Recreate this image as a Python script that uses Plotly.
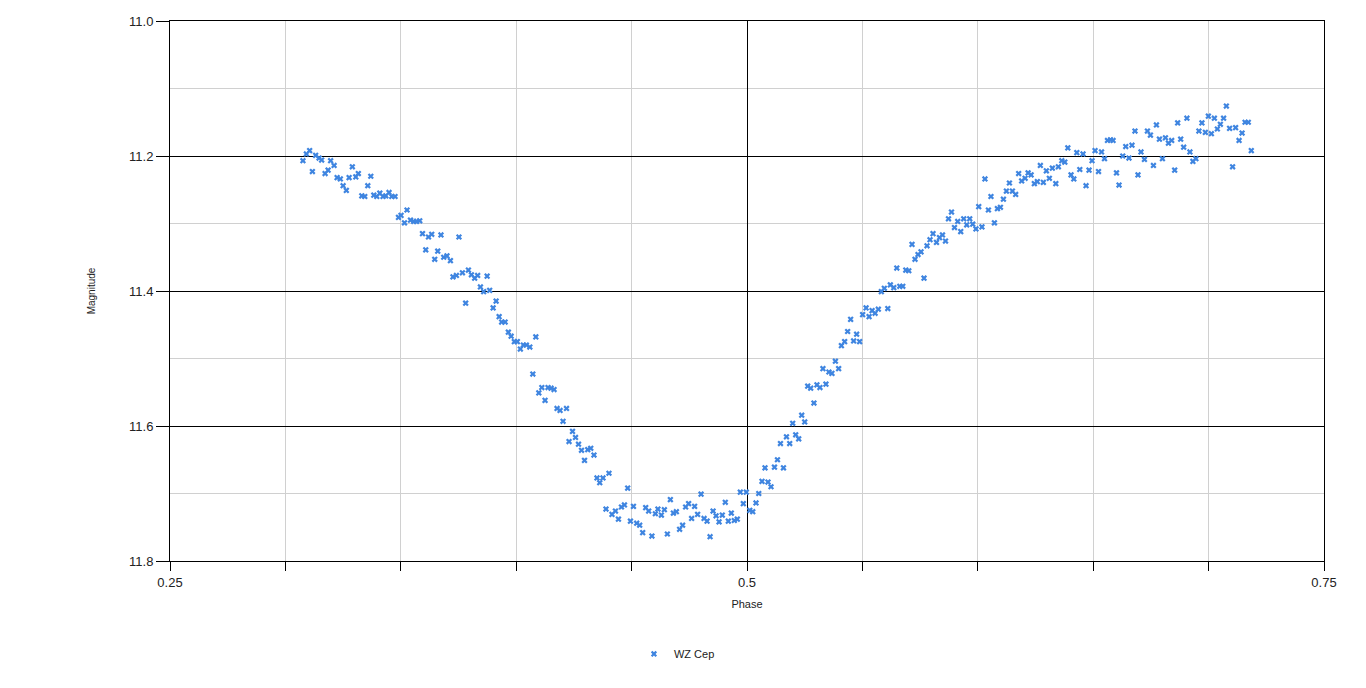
import plotly.graph_objects as go

series_name = "WZ Cep"

phase = [
    0.3076, 0.3091, 0.3105, 0.3117, 0.3131, 0.3146, 0.3157, 0.3172, 0.3185, 0.3196,
    0.3211, 0.3224, 0.3238, 0.3250, 0.3264, 0.3276, 0.3290, 0.3305, 0.3316, 0.3331,
    0.3344, 0.3357, 0.3370, 0.3383, 0.3396, 0.3409, 0.3423, 0.3435, 0.3449, 0.3461,
    0.3475, 0.3490, 0.3501, 0.3516, 0.3527, 0.3542, 0.3556, 0.3568, 0.3582, 0.3594,
    0.3608, 0.3620, 0.3634, 0.3647, 0.3660, 0.3674, 0.3686, 0.3700, 0.3715, 0.3726,
    0.3741, 0.3752, 0.3767, 0.3781, 0.3793, 0.3806, 0.3820, 0.3833, 0.3845, 0.3859,
    0.3874, 0.3885, 0.3900, 0.3913, 0.3926, 0.3937, 0.3952, 0.3966, 0.3978, 0.3992,
    0.4005, 0.4018, 0.4031, 0.4044, 0.4059, 0.4072, 0.4085, 0.4098, 0.4111, 0.4125,
    0.4138, 0.4151, 0.4164, 0.4177, 0.4190, 0.4203, 0.4218, 0.4229, 0.4244, 0.4257,
    0.4270, 0.4283, 0.4296, 0.4310, 0.4323, 0.4337, 0.4350, 0.4362, 0.4376, 0.4389,
    0.4402, 0.4415, 0.4430, 0.4443, 0.4456, 0.4469, 0.4483, 0.4495, 0.4508, 0.4522,
    0.4535, 0.4548, 0.4561, 0.4574, 0.4588, 0.4603, 0.4614, 0.4629, 0.4642, 0.4655,
    0.4668, 0.4681, 0.4694, 0.4708, 0.4721, 0.4734, 0.4747, 0.4760, 0.4773, 0.4786,
    0.4801, 0.4814, 0.4827, 0.4840, 0.4853, 0.4866, 0.4879, 0.4893, 0.4906, 0.4919,
    0.4932, 0.4945, 0.4958, 0.4971, 0.4984, 0.4997, 0.5012, 0.5025, 0.5039, 0.5051,
    0.5065, 0.5078, 0.5091, 0.5104, 0.5119, 0.5132, 0.5145, 0.5158, 0.5171, 0.5185,
    0.5198, 0.5211, 0.5224, 0.5237, 0.5250, 0.5263, 0.5276, 0.5290, 0.5303, 0.5316,
    0.5329, 0.5342, 0.5355, 0.5368, 0.5383, 0.5397, 0.5409, 0.5423, 0.5436, 0.5449,
    0.5462, 0.5475, 0.5488, 0.5501, 0.5516, 0.5529, 0.5542, 0.5555, 0.5569, 0.5582,
    0.5595, 0.5610, 0.5621, 0.5636, 0.5649, 0.5662, 0.5675, 0.5688, 0.5701, 0.5715,
    0.5728, 0.5741, 0.5754, 0.5767, 0.5780, 0.5793, 0.5806, 0.5821, 0.5834, 0.5847,
    0.5860, 0.5873, 0.5886, 0.5899, 0.5913, 0.5926, 0.5939, 0.5952, 0.5965, 0.5978,
    0.5992, 0.6004, 0.6018, 0.6031, 0.6046, 0.6057, 0.6072, 0.6085, 0.6098, 0.6111,
    0.6124, 0.6137, 0.6150, 0.6164, 0.6177, 0.6190, 0.6205, 0.6218, 0.6231, 0.6245,
    0.6258, 0.6271, 0.6284, 0.6297, 0.6310, 0.6323, 0.6338, 0.6349, 0.6364, 0.6377,
    0.6390, 0.6404, 0.6416, 0.6429, 0.6442, 0.6456, 0.6469, 0.6482, 0.6495, 0.6508,
    0.6523, 0.6536, 0.6549, 0.6562, 0.6575, 0.6586, 0.6601, 0.6612, 0.6628, 0.6641,
    0.6655, 0.6668, 0.6681, 0.6694, 0.6707, 0.6722, 0.6735, 0.6748, 0.6761, 0.6774,
    0.6787, 0.6800, 0.6813, 0.6826, 0.6840, 0.6853, 0.6866, 0.6879, 0.6892, 0.6906,
    0.6919, 0.6932, 0.6945, 0.6958, 0.6971, 0.6986, 0.6999, 0.7012, 0.7025, 0.7038,
    0.7051, 0.7065, 0.7077, 0.7091, 0.7104, 0.7117, 0.7132, 0.7145, 0.7158, 0.7172,
    0.7185,
]

magnitude = [
    11.207, 11.197, 11.192, 11.223, 11.199, 11.203, 11.206, 11.226, 11.221, 11.207,
    11.214, 11.232, 11.234, 11.244, 11.251, 11.232, 11.216, 11.231, 11.226, 11.259,
    11.260, 11.244, 11.230, 11.258, 11.260, 11.255, 11.260, 11.259, 11.254, 11.260,
    11.260, 11.291, 11.288, 11.299, 11.280, 11.295, 11.297, 11.297, 11.296, 11.315,
    11.339, 11.320, 11.316, 11.353, 11.341, 11.317, 11.350, 11.348, 11.355, 11.379,
    11.377, 11.320, 11.373, 11.418, 11.369, 11.376, 11.381, 11.377, 11.394, 11.401,
    11.378, 11.399, 11.425, 11.415, 11.438, 11.446, 11.446, 11.461, 11.467, 11.475,
    11.475, 11.486, 11.480, 11.480, 11.483, 11.523, 11.468, 11.551, 11.543, 11.562,
    11.543, 11.544, 11.546, 11.574, 11.577, 11.593, 11.574, 11.623, 11.608, 11.617,
    11.627, 11.636, 11.651, 11.635, 11.633, 11.643, 11.677, 11.684, 11.677, 11.723,
    11.670, 11.731, 11.726, 11.738, 11.720, 11.717, 11.692, 11.741, 11.719, 11.744,
    11.747, 11.758, 11.721, 11.726, 11.763, 11.730, 11.723, 11.732, 11.724, 11.760,
    11.709, 11.729, 11.727, 11.753, 11.747, 11.720, 11.715, 11.737, 11.719, 11.731,
    11.701, 11.737, 11.741, 11.764, 11.726, 11.733, 11.742, 11.732, 11.713, 11.741,
    11.729, 11.740, 11.738, 11.698, 11.715, 11.698, 11.725, 11.727, 11.714, 11.700,
    11.682, 11.662, 11.683, 11.690, 11.661, 11.650, 11.626, 11.662, 11.616, 11.626,
    11.596, 11.613, 11.619, 11.584, 11.594, 11.541, 11.544, 11.566, 11.539, 11.543,
    11.515, 11.538, 11.520, 11.522, 11.504, 11.515, 11.481, 11.475, 11.460, 11.442,
    11.474, 11.464, 11.475, 11.435, 11.425, 11.438, 11.429, 11.433, 11.427, 11.401,
    11.396, 11.426, 11.391, 11.395, 11.366, 11.393, 11.393, 11.369, 11.370, 11.331,
    11.353, 11.346, 11.342, 11.381, 11.333, 11.324, 11.315, 11.328, 11.321, 11.317,
    11.326, 11.293, 11.283, 11.306, 11.297, 11.312, 11.293, 11.302, 11.293, 11.301,
    11.308, 11.275, 11.305, 11.234, 11.280, 11.260, 11.299, 11.278, 11.276, 11.264,
    11.252, 11.240, 11.252, 11.257, 11.226, 11.237, 11.233, 11.225, 11.228, 11.241,
    11.238, 11.214, 11.239, 11.222, 11.233, 11.218, 11.241, 11.216, 11.207, 11.209,
    11.188, 11.228, 11.234, 11.195, 11.220, 11.197, 11.244, 11.221, 11.207, 11.192,
    11.223, 11.194, 11.204, 11.177, 11.176, 11.177, 11.225, 11.243, 11.200, 11.186,
    11.203, 11.184, 11.163, 11.228, 11.194, 11.205, 11.163, 11.169, 11.214, 11.154,
    11.175, 11.204, 11.173, 11.181, 11.177, 11.221, 11.151, 11.175, 11.187, 11.144,
    11.194, 11.208, 11.204, 11.163, 11.151, 11.165, 11.141, 11.167, 11.144, 11.160,
    11.153, 11.144, 11.126, 11.159, 11.216, 11.158, 11.177, 11.166, 11.150, 11.150,
    11.192,
]

x_tick_vals = [0.25, 0.5, 0.75]
x_tick_text = ["0.25", "0.5", "0.75"]
y_tick_vals = [11.0, 11.2, 11.4, 11.6, 11.8]
y_tick_text = ["11.0", "11.2", "11.4", "11.6", "11.8"]

marker_color = "#3f85e0"
font_family = "Liberation Sans, Arial, sans-serif"

fig = go.Figure()
fig.add_trace(go.Scatter(
    x=phase, y=magnitude, mode="markers", name=series_name,
    marker=dict(symbol="x", size=5.5, color=marker_color, line=dict(width=0)),
))

fig.update_layout(
    width=1366, height=688,
    paper_bgcolor="white", plot_bgcolor="white",
    margin=dict(l=162, r=50, t=13, b=135),
    font=dict(family=font_family, size=11, color="#222222"),
    showlegend=True,
    legend=dict(orientation="h", x=0.4393, xanchor="center", y=-0.172, yanchor="middle",
                font=dict(size=11, color="#222222"), bgcolor="rgba(0,0,0,0)"),
    xaxis=dict(
        range=[0.25, 0.75], tickvals=x_tick_vals, ticktext=x_tick_text,
        automargin=False,
        showgrid=True, gridcolor="black", gridwidth=1,
        showline=True, linecolor="black", linewidth=1, mirror=True,
        ticks="outside", ticklen=9, tickcolor="black",
        zeroline=False,
        tickfont=dict(size=13, color="#222222"),
        title=dict(text="Phase", font=dict(size=11), standoff=11),
        minor=dict(dtick=0.05, tick0=0.25, showgrid=True, gridcolor="#d0d0d0",
                   ticks="outside", ticklen=9, tickcolor="black"),
    ),
    yaxis=dict(
        range=[11.8, 11.0], tickvals=y_tick_vals, ticktext=y_tick_text,
        automargin=False,
        showgrid=True, gridcolor="black", gridwidth=1,
        showline=True, linecolor="black", linewidth=1, mirror=True,
        ticks="outside", ticklen=13, tickcolor="black",
        zeroline=False,
        tickfont=dict(size=13, color="#222222"),
        title=dict(text="Magnitude", font=dict(size=10), standoff=31),
        minor=dict(dtick=0.1, tick0=11.0, showgrid=True, gridcolor="#d0d0d0",
                   ticks=""),
    ),
)

fig.write_html("out.html")
